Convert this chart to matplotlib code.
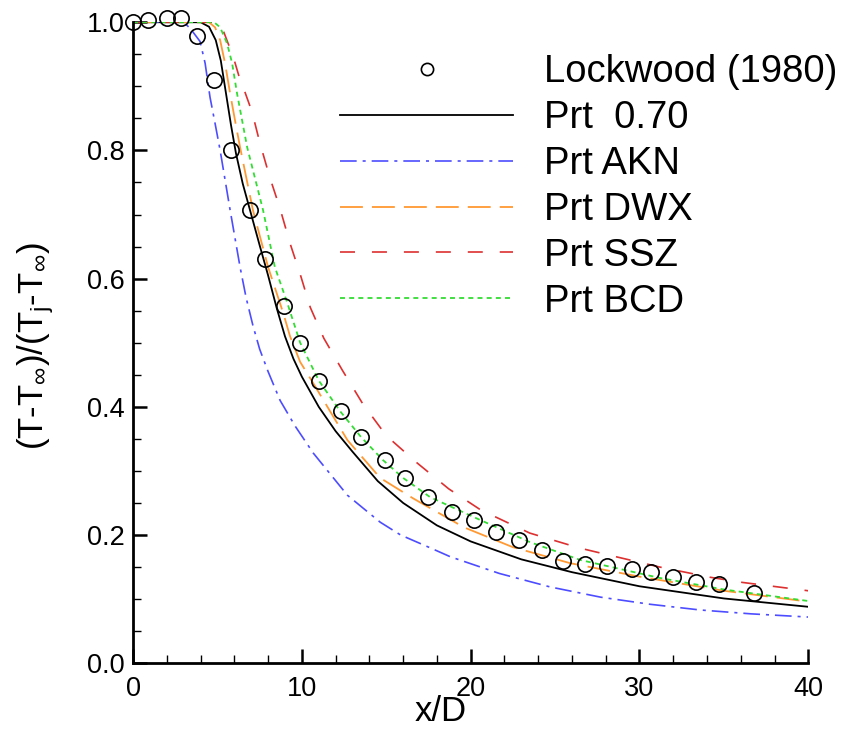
import matplotlib
matplotlib.use("Agg")
import matplotlib.pyplot as plt
from matplotlib.ticker import MultipleLocator, FormatStrFormatter

plt.rcParams['font.family'] = ['Liberation Sans', 'DejaVu Sans']
plt.rcParams['mathtext.fontset'] = 'custom'
plt.rcParams['mathtext.rm'] = 'Liberation Sans'
plt.rcParams['mathtext.it'] = 'Liberation Sans'
plt.rcParams['lines.scale_dashes'] = False

# Lockwood (1980) measurements
exp_x = [0.0, 0.9, 2.0, 2.85, 3.8, 4.8, 5.8, 6.9, 7.8, 8.96, 9.9, 11.0, 12.3, 13.5,
         14.9, 16.1, 17.5, 18.9, 20.2, 21.5, 22.85, 24.25, 25.45, 26.75, 28.1, 29.55,
         30.7, 32.0, 33.35, 34.7, 36.8]
exp_y = [1.0, 1.003, 1.006, 1.006, 0.978, 0.91, 0.80, 0.707, 0.63, 0.558, 0.50, 0.441,
         0.393, 0.353, 0.317, 0.289, 0.259, 0.236, 0.224, 0.204, 0.192, 0.176, 0.159,
         0.154, 0.151, 0.147, 0.143, 0.134, 0.126, 0.123, 0.109]

# Prt 0.70
k_x = [0, 4.0, 4.5, 4.9, 5.2, 5.5, 5.8, 6.1, 6.5, 7.0, 7.5, 8.0, 8.5, 9.0, 9.5, 10.0,
       11.0, 12.0, 13.0, 14.5, 16.0, 18.0, 20.0, 23.0, 26.0, 30.0, 35.0, 40.0]
k_y = [1.0, 1.0, 0.993, 0.972, 0.94, 0.89, 0.84, 0.795, 0.748, 0.70, 0.652, 0.605,
       0.555, 0.51, 0.475, 0.447, 0.40, 0.362, 0.33, 0.284, 0.25, 0.215, 0.19, 0.162,
       0.142, 0.12, 0.101, 0.088]

# Prt AKN
b_x = [0, 3.0, 3.4, 3.97, 4.27, 4.56, 4.86, 5.16, 5.75, 6.34, 6.7, 7.1, 7.5, 8.0,
       8.71, 9.6, 10.67, 12.7, 14.64, 15.85, 17.6, 18.8, 21.7, 24.7, 27.7, 30.6, 33.6,
       36.6, 40.0]
b_y = [1.0, 1.0, 0.99, 0.97, 0.936, 0.883, 0.842, 0.80, 0.707, 0.618, 0.57, 0.527,
       0.49, 0.455, 0.41, 0.37, 0.328, 0.262, 0.22, 0.2, 0.18, 0.166, 0.14, 0.119,
       0.103, 0.092, 0.083, 0.077, 0.072]

# Prt DWX
o_x = [0, 4.5, 4.86, 5.16, 5.45, 5.75, 6.04, 6.34, 7.1, 8.0, 8.9, 9.3, 9.9, 10.67,
       12.7, 14.64, 16.6, 19.6, 22.5, 25.9, 30.0, 35.0, 40.0]
o_y = [1.0, 1.0, 0.992, 0.972, 0.936, 0.889, 0.847, 0.805, 0.707, 0.618, 0.546, 0.51,
       0.47, 0.437, 0.348, 0.289, 0.257, 0.212, 0.181, 0.156, 0.135, 0.113, 0.096]

# Prt SSZ
r_x = [0, 5.0, 5.3, 5.63, 5.87, 6.34, 6.52, 7.05, 7.5, 8.1, 8.7, 9.3, 9.9, 10.5, 11.3,
       12.4, 13.6, 15.0, 16.8, 18.7, 20.6, 23.5, 26.4, 28.3, 31.2, 34.2, 36.1, 40.0]
r_y = [1.0, 1.0, 0.99, 0.967, 0.952, 0.91, 0.899, 0.86, 0.813, 0.758, 0.71, 0.655,
       0.607, 0.555, 0.507, 0.457, 0.405, 0.355, 0.313, 0.272, 0.239, 0.203, 0.18,
       0.168, 0.15, 0.134, 0.126, 0.113]

# Prt BCD
g_x = [0, 4.8, 5.16, 5.57, 5.87, 6.16, 6.46, 6.76, 7.7, 8.4, 9.1, 9.9, 11.0, 12.3, 13.5,
       14.8, 16.0, 17.6, 20.6, 23.5, 26.5, 31.2, 35.0, 40.0]
g_y = [1.0, 1.0, 0.992, 0.967, 0.936, 0.889, 0.847, 0.805, 0.707, 0.618, 0.565, 0.50,
       0.441, 0.392, 0.353, 0.317, 0.289, 0.259, 0.223, 0.189, 0.161, 0.133, 0.115,
       0.097]

fig = plt.figure(figsize=(8.42, 7.41), dpi=100)
ax = fig.add_axes([0.158, 0.105, 0.802, 0.865])

ax.plot(k_x, k_y, color='black', lw=1.3, label='Prt  0.70')
ax.plot(b_x, b_y, color='#4d4dff', lw=1.2, dashes=(12, 4.3, 2.2, 4.3), label='Prt AKN')
ax.plot(o_x, o_y, color='#ff9933', lw=1.3, dashes=(16.5, 6.5), label='Prt DWX')
ax.plot(r_x, r_y, color='#dd3030', lw=1.2, dashes=(10.8, 12.2), label='Prt SSZ')
ax.plot(g_x, g_y, color='#33dd33', lw=1.3, dashes=(3.6, 3.0), label='Prt BCD')
ax.plot(exp_x, exp_y, 'o', ms=11, mfc='none', mec='black', mew=1.2,
        clip_on=False, zorder=5, label='Lockwood (1980)')

ax.set_xlim(0, 40)
ax.set_ylim(0, 1.0)
ax.xaxis.set_major_locator(MultipleLocator(10))
ax.xaxis.set_minor_locator(MultipleLocator(2))
ax.yaxis.set_major_locator(MultipleLocator(0.2))
ax.yaxis.set_minor_locator(MultipleLocator(0.05))
ax.yaxis.set_major_formatter(FormatStrFormatter('%.1f'))

for s in ['top', 'right']:
    ax.spines[s].set_visible(False)
for s in ['left', 'bottom']:
    ax.spines[s].set_linewidth(2.0)

ax.tick_params(which='major', direction='in', length=10, width=1.8, labelsize=19.5)
ax.tick_params(which='minor', direction='in', length=6, width=1.0)
ax.tick_params(axis='x', which='major', pad=9)
ax.tick_params(axis='y', which='major', pad=6)

ax.set_xlabel('x/D', fontsize=25)
ax.xaxis.set_label_coords(0.455, -0.05)
ax.set_ylabel(r'(T-T$_\infty$)/(T$_\mathregular{j}$-T$_\infty$)', fontsize=25)
ax.yaxis.set_label_coords(-0.114, 0.495)

h, l = ax.get_legend_handles_labels()
order = [5, 0, 1, 2, 3, 4]
ax.legend([h[i] for i in order], [l[i] for i in order], loc='upper left',
          bbox_to_anchor=(0.404, 0.927), bbox_transform=fig.transFigure,
          frameon=False, fontsize=27.5, handlelength=4.53, handletextpad=0.81,
          labelspacing=0.26, borderpad=0, borderaxespad=0, numpoints=1, markerscale=0.8)

fig.savefig('out.png', dpi=100)
